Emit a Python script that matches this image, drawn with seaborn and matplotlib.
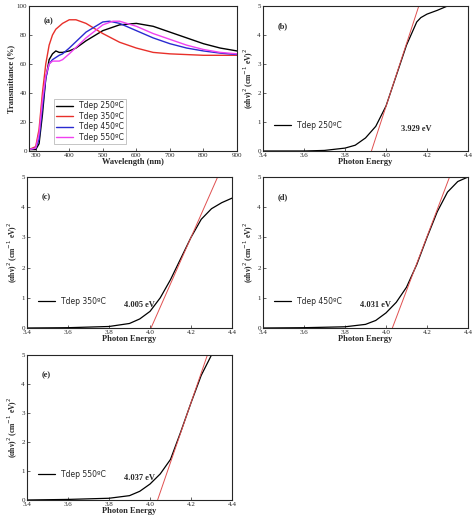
import matplotlib
matplotlib.use("Agg")
import matplotlib.pyplot as plt
import seaborn as sns
import pandas as pd

sns.set_style("ticks")
plt.rcParams['font.family'] = ['Liberation Serif', 'DejaVu Sans']

# Panel (a) transmittance
wl_250 = [280,300,310,320,330,340,350,360,370,380,400,420,450,500,550,600,650,700,750,800,850,900]
t_250 = [1,1,5,25,50,63,67,69,68,68,69,71,76,83,87,88,86,82,78,74,71,69]
wl_350 = [280,300,310,320,330,340,350,360,380,400,420,450,500,550,600,650,700,750,800,900]
t_350 = [1,3,15,40,60,73,80,84,88,90.5,90.5,88,81,75,71,68,67,66.5,66,66]
wl_450 = [280,300,310,320,330,340,350,370,380,400,450,500,520,550,600,650,700,750,800,850,900]
t_450 = [1,2,8,30,50,60,63,66,67,71,82,89,89.5,88,83,78,74,71,69,67.5,66.5]
wl_550 = [280,300,310,320,330,340,350,370,380,400,450,500,530,550,600,650,700,750,800,850,900]
t_550 = [1,2,12,35,52,60,62,62,63,67,78,87,89.5,89.5,86,81,77,73,70,68,67]
labels_a = ["Tdep 250ºC", "Tdep 350ºC", "Tdep 450ºC", "Tdep 550ºC"]
colors_a = ["black", "#e8302a", "#2a2ad0", "#f040f0"]

# Tauc panels
e_b = [3.4,3.6,3.7,3.8,3.85,3.9,3.95,4.0,4.05,4.1,4.15,4.17,4.2,4.25,4.3]
y_b = [0,0,0.02,0.1,0.2,0.45,0.85,1.55,2.6,3.65,4.45,4.6,4.72,4.85,5.0]
e_c = [3.4,3.6,3.8,3.9,3.95,4.0,4.05,4.1,4.15,4.2,4.25,4.3,4.35,4.4]
y_c = [0,0.01,0.05,0.15,0.3,0.55,1.0,1.6,2.3,3.0,3.6,3.95,4.15,4.3]
e_d = [3.4,3.6,3.8,3.9,3.95,4.0,4.05,4.1,4.15,4.2,4.25,4.3,4.35,4.4]
y_d = [0,0.01,0.04,0.12,0.25,0.5,0.85,1.35,2.1,3.0,3.85,4.5,4.85,5.0]
e_e = [3.4,3.6,3.8,3.9,3.95,4.0,4.05,4.1,4.15,4.2,4.25,4.3]
y_e = [0,0.02,0.06,0.15,0.3,0.55,0.9,1.4,2.35,3.35,4.3,5.0]
fit_b = ([3.929, 4.16], [0, 5])
fit_c = ([4.005, 4.33], [0, 5])
fit_d = ([4.031, 4.31], [0, 5])
fit_e = ([4.037, 4.28], [0, 5])
gaps = ["3.929 eV", "4.005 eV", "4.031 eV", "4.037 eV"]
tauc_labels = ["Tdep 250ºC", "Tdep 350ºC", "Tdep 450ºC", "Tdep 550ºC"]
letters = ["(b)", "(c)", "(d)", "(e)"]

fig = plt.figure(figsize=(4.74, 5.25), dpi=100)
W, H = 474, 525
def ax_at(x0, y0, x1, y1):
    return fig.add_axes([x0/W, 1-y1/H, (x1-x0)/W, (y1-y0)/H])

tick_kw = dict(labelsize=5, direction='in', length=2, width=0.5, pad=1.5)

ax = ax_at(29, 6, 237, 151)
for wl, t, lab, c in zip([wl_250, wl_350, wl_450, wl_550], [t_250, t_350, t_450, t_550], labels_a, colors_a):
    sns.lineplot(x=wl, y=t, ax=ax, color=c, lw=1, label=lab)
ax.set_xlim(280, 900); ax.set_ylim(0, 100)
ax.set_xticks(range(300, 901, 100)); ax.set_yticks(range(0, 101, 20))
ax.set_xlabel("Wavelength (nm)", fontsize=6, fontweight='bold', labelpad=0)
ax.set_ylabel("Transmittance (%)", fontsize=6, fontweight='bold', labelpad=1)
ax.tick_params(**tick_kw)
ax.text(0.07, 0.88, "(a)", transform=ax.transAxes, fontsize=6, fontweight='bold')
leg = ax.legend(loc='lower left', bbox_to_anchor=(0.1, 0.02), frameon=True,
                prop={'family': 'DejaVu Sans', 'size': 5.5}, handlelength=2.2, borderpad=0.3,
                labelspacing=0.2, fancybox=False, edgecolor='#999999')
leg.get_frame().set_linewidth(0.5)

boxes = [(263, 6, 468, 151), (27, 177, 232, 328), (263, 177, 468, 328), (27, 355, 232, 500)]
curves = [(e_b, y_b, fit_b), (e_c, y_c, fit_c), (e_d, y_d, fit_d), (e_e, y_e, fit_e)]
for box, (ex, ey, fit), g, lab, let in zip(boxes, curves, gaps, tauc_labels, letters):
    a = ax_at(*box)
    sns.lineplot(x=ex, y=ey, ax=a, color='black', lw=0.9, label=lab)
    sns.lineplot(x=fit[0], y=fit[1], ax=a, color='#e05050', lw=0.7)
    a.set_xlim(3.4, 4.4); a.set_ylim(0, 5)
    a.set_xticks([3.4, 3.6, 3.8, 4.0, 4.2, 4.4]); a.set_yticks(range(0, 6))
    a.set_xlabel("Photon Energy", fontsize=6, fontweight='bold', labelpad=0)
    a.set_ylabel("(αhν)$^2$ (cm$^{-1}$ eV)$^2$", fontsize=5.5, fontweight='bold', labelpad=1)
    a.tick_params(**tick_kw)
    a.text(0.07, 0.85, let, transform=a.transAxes, fontsize=6, fontweight='bold')
    a.text(0.75 if let == "(b)" else 0.55, 0.14, g, transform=a.transAxes, fontsize=6, fontweight='bold', ha='center')
    a.legend(loc='lower left', bbox_to_anchor=(0.02, 0.1), frameon=False,
             prop={'family': 'DejaVu Sans', 'size': 5.5}, handlelength=2.2)
fig.savefig("out.png", dpi=100)
